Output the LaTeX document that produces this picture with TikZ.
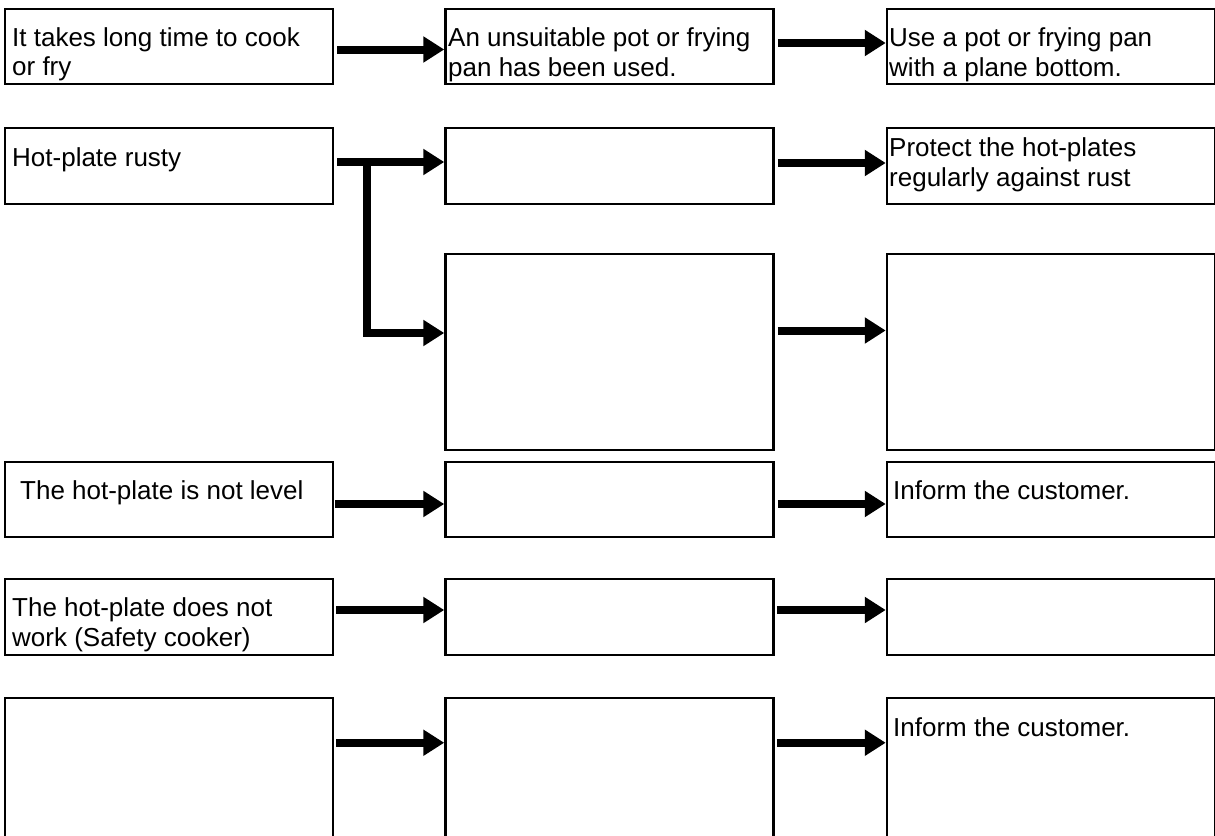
\documentclass[tikz,border=0pt]{standalone}
\usepackage{fontspec}
\setmainfont{Liberation Sans}
\usetikzlibrary{arrows.meta}
\begin{document}
\begin{tikzpicture}[x=1pt,y=-1pt,
        box/.style={draw,line width=2.5pt,inner sep=0pt,minimum width=328pt},
        txt/.style={anchor=base west,inner sep=0pt,align=left,font=\fontsize{26}{29.5}\selectfont},
        flow/.style={line width=8pt,-{Triangle[length=21pt,width=25pt]}}]
    \clip (0,0) rectangle (1215,835);
    % boxes
    \node[box,minimum height=75pt] (prob1) at (169,46.5) {};
    \node[box,minimum height=75pt] (cause1) at (609.5,46.5) {};
    \node[box,minimum height=75pt] (cure1) at (1051,46.5) {};
    \node[box,minimum height=76pt] (prob2) at (169,166) {};
    \node[box,minimum height=76pt] (cause2) at (609.5,166) {};
    \node[box,minimum height=76pt] (cure2) at (1051,166) {};
    \node[box,minimum height=196pt] (cause3) at (609.5,352) {};
    \node[box,minimum height=196pt] (cure3) at (1051,352) {};
    \node[box,minimum height=75pt] (prob4) at (169,499.5) {};
    \node[box,minimum height=75pt] (cause4) at (609.5,499.5) {};
    \node[box,minimum height=75pt] (cure4) at (1051,499.5) {};
    \node[box,minimum height=76pt] (prob5) at (169,617) {};
    \node[box,minimum height=76pt] (cause5) at (609.5,617) {};
    \node[box,minimum height=76pt] (cure5) at (1051,617) {};
    \node[box,minimum height=180pt] (prob6) at (169,788) {};
    \node[box,minimum height=180pt] (cause6) at (609.5,788) {};
    \node[box,minimum height=180pt] (cure6) at (1051,788) {};
    % texts (base = last line)
    \node[txt] (tprob1) at (12,75.5) {It takes long time to cook\\or fry};
    \node[txt] (tcause1) at (448,76) {An unsuitable pot or frying\\pan has been used.};
    \node[txt] (tcure1) at (889,76) {Use a pot or frying pan\\with a plane bottom.};
    \node[txt] (tprob2) at (12,166) {Hot-plate rusty};
    \node[txt] (tcure2) at (889,186) {Protect the hot-plates\\regularly against rust};
    \node[txt] (tprob4) at (20,499) {The hot-plate is not level};
    \node[txt] (tcure4) at (893,499) {Inform the customer.};
    \node[txt] (tprob5) at (12,646) {The hot-plate does not\\work (Safety cooker)};
    \node[txt] (tcure6) at (893,736) {Inform the customer.};
    % arrows
    \draw[flow] ([xshift=3pt,yshift=-3pt]prob1.east) -- ([yshift=-3pt]cause1.west);
    \draw[flow] ([xshift=3pt,yshift=3.5pt]cause1.east) -- ([yshift=3.5pt]cure1.west);
    \draw[flow] ([xshift=3pt,yshift=4pt]prob2.east) -- ([yshift=4pt]cause2.west);
    \draw[flow] ([xshift=3pt,yshift=3pt]cause2.east) -- ([yshift=3pt]cure2.west);
    \coordinate (split) at ([xshift=33pt,yshift=4pt]prob2.east);
    \draw[flow] (split) |- ([yshift=19pt]cause3.west);
    \draw[flow] ([xshift=3pt,yshift=21.5pt]cause3.east) -- ([yshift=21.5pt]cure3.west);
    \draw[flow] ([xshift=1pt,yshift=-4.5pt]prob4.east) -- ([yshift=-4.5pt]cause4.west);
    \draw[flow] ([xshift=3pt,yshift=-4.5pt]cause4.east) -- ([yshift=-4.5pt]cure4.west);
    \draw[flow] ([xshift=2pt,yshift=7pt]prob5.east) -- ([yshift=7pt]cause5.west);
    \draw[flow] ([xshift=2pt,yshift=7pt]cause5.east) -- ([yshift=7pt]cure5.west);
    \draw[flow] ([xshift=2pt,yshift=-46pt]prob6.north east) -- ([yshift=-46pt]cause6.north west);
    \draw[flow] ([xshift=2pt,yshift=-46pt]cause6.north east) -- ([yshift=-46pt]cure6.north west);
\end{tikzpicture}
\end{document}
